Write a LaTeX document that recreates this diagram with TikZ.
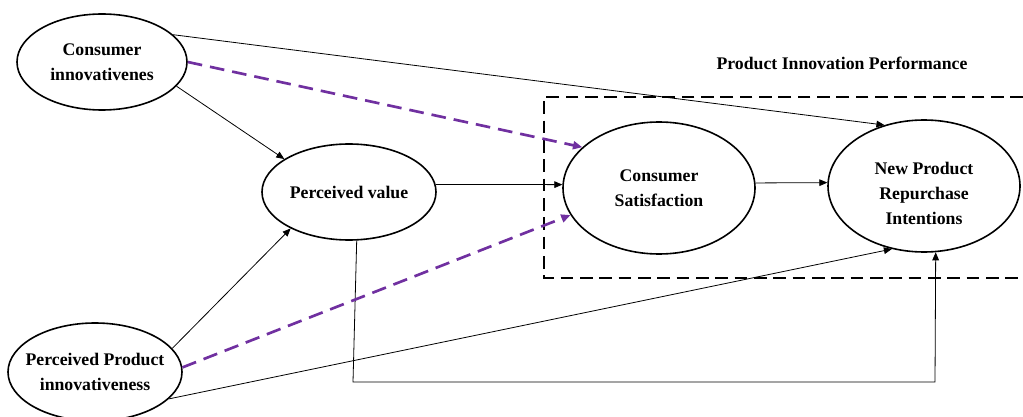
\documentclass[tikz,border=0pt]{standalone}
\usepackage{fontspec}
\setmainfont{Liberation Serif}
\usetikzlibrary{shapes.geometric,arrows.meta}
\definecolor{purp}{RGB}{112,48,160}
\begin{document}
\begin{tikzpicture}[x=0.75pt,y=-0.75pt,
  ell/.style={draw,ellipse,line width=1.2pt,inner sep=0pt,align=center,
    font=\fontsize{13.3pt}{18.5pt}\selectfont\bfseries},
  thin/.style={line width=0.6pt,-{Triangle[length=6pt,width=5pt]}},
  pdash/.style={draw=purp,line width=2pt,dash pattern=on 11pt off 6pt,
    -{Triangle[length=7pt,width=6pt]},purp},
  boxdash/.style={line width=1.2pt,dash pattern=on 9.5pt off 5pt}]
\useasboundingbox (0,0) rectangle (1023,417);
\node[ell,minimum width=127.5pt,minimum height=72pt] (ci) at (102,62) {Consumer\\innovativenes};
\node[ell,inner xsep=-10pt,minimum width=130.5pt,minimum height=73.5pt] (ppi) at (95,372) {Perceived Product\\innovativeness};
\node[ell,minimum width=130.5pt,minimum height=72pt] (pv) at (349,192) {Perceived value};
\node[ell,minimum width=144pt,minimum height=99pt] (cs) at (659,188) {Consumer\\Satisfaction};
\node[ell,minimum width=144pt,minimum height=99pt] (npri) at (924,186)
  {\raisebox{-10pt}[0pt][0pt]{\begin{tabular}{@{}c@{}}New Product\\Repurchase\\Intentions\end{tabular}}};
\node[font=\fontsize{13.3pt}{18.5pt}\selectfont\bfseries] (title) at (842,63) {Product Innovation Performance};
\coordinate (r1) at (1023,97);
\coordinate (r2) at (544,97);
\coordinate (r3) at (544,278);
\coordinate (r4) at (1023,278);
\draw[boxdash] (r1) -- (r2) -- (r3) -- (r4);
\draw[thin] (ci.21) -- (npri.123.3);
\draw[thin] (ci.-18) -- (pv.153.4);
\draw[thin] (ppi.17.6) -- (pv.-148.6);
\draw[thin] (ppi.-20.3) -- (npri.-117.6);
\draw[thin] (pv.5) -- (cs.178.2);
\draw[thin] (cs.3) -- (npri.178.2);
\coordinate (b1) at (353,382);
\coordinate (b2) at (935,382);
\draw[thin] (pv.-81) -- (b1) -- (b2) -- (npri.-80.5);
\draw[pdash] (ci.0) -- (cs.152.2);
\draw[pdash] (ppi.3.9) -- (cs.-163);
\end{tikzpicture}
\end{document}
